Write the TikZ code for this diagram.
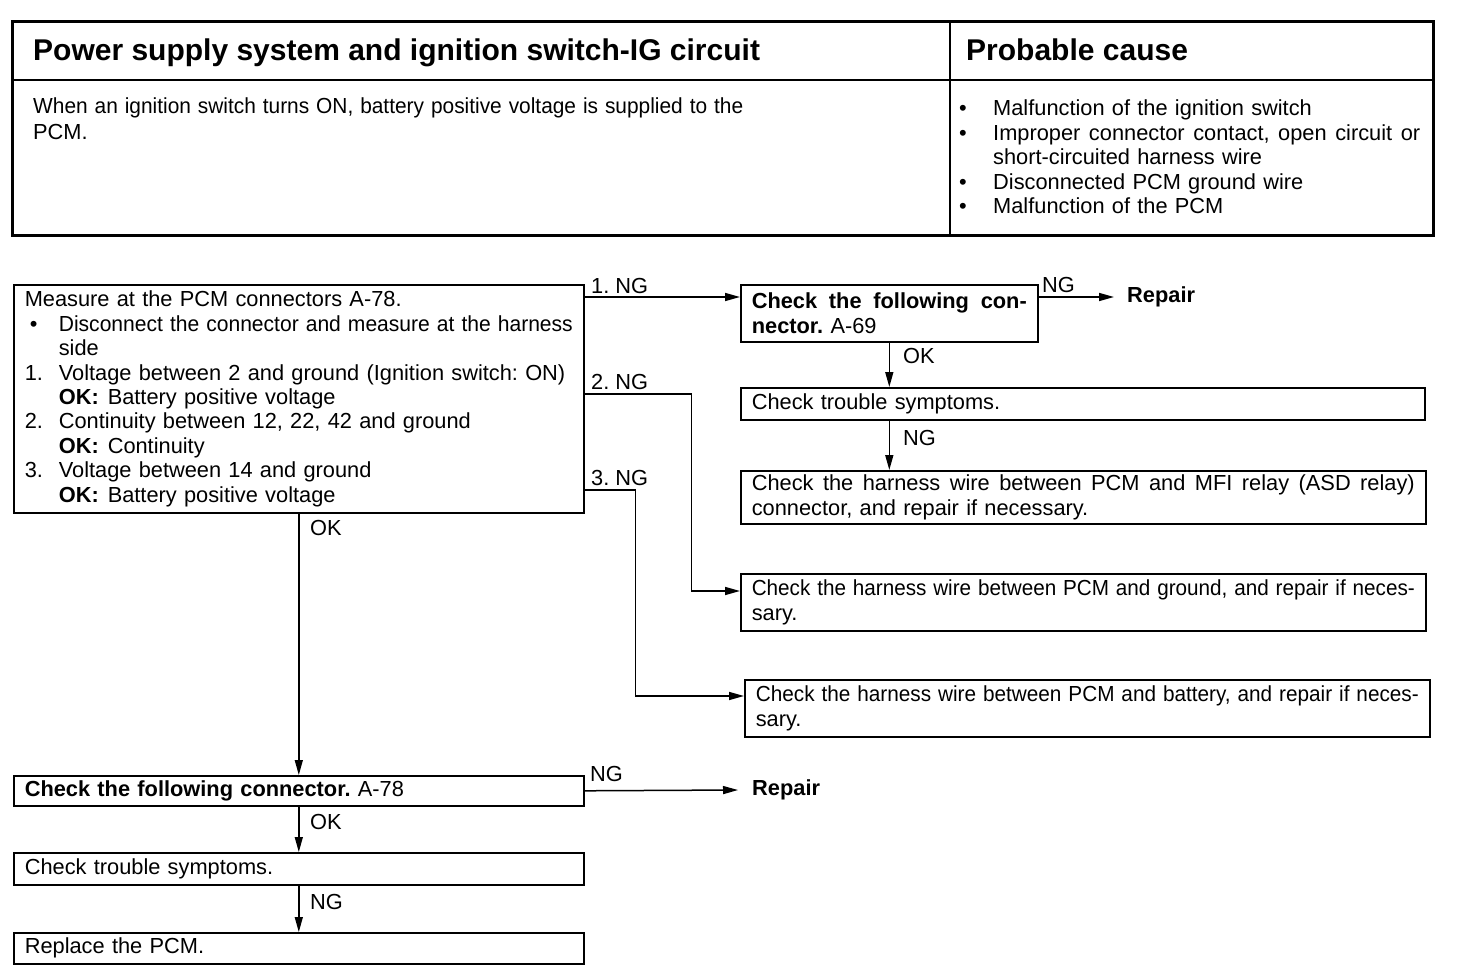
\documentclass[tikz,border=0pt]{standalone}
\usepackage{fontspec}
\usepackage{graphicx}
\setmainfont{Liberation Sans}
\usetikzlibrary{arrows.meta,calc}
\newcommand{\squeezeto}[2]{\resizebox{#1}{\height}{#2}}
\newcommand{\bigdot}{\textbullet}
\begin{document}
\frenchspacing
\begin{tikzpicture}[x=1pt,y=-1pt,
  txt/.style={font=\fontsize{21.8}{24.4}\selectfont, inner sep=0pt},
  box/.style={txt, draw, line width=1.6pt, anchor=north west, inner xsep=11pt, inner ysep=0pt, align=left},
  arr/.style={line width=1.5pt, -{Triangle[length=15pt,width=8pt]}},
  lbl/.style={txt, anchor=base west},
  bigbold/.style={font=\fontsize{30}{34}\selectfont\bfseries},
  repair/.style={txt, anchor=west, font=\fontsize{21.8}{24}\selectfont\bfseries},
  frame/.style={line width=3pt},
  rule/.style={line width=2pt}]
\useasboundingbox (0,0) rectangle (1472,974);

% header table
\draw[frame] (12,22) rectangle (1433,235);
\draw[rule] (12,80) -- (1433,80);
\draw[rule] (950,22) -- (950,235);
\node[lbl, bigbold] (title) at (33,60) {Power supply system and ignition switch-IG circuit};
\node[lbl, bigbold] (pc) at (966,60) {Probable cause};
\node[txt, anchor=north west, text width=900pt, align=left, font=\fontsize{21.8}{26}\selectfont] (desc) at (33,98)
  {\squeezeto{710pt}{When an ignition switch turns ON, battery positive voltage is supplied to the}\\PCM.};
\node[txt, anchor=north west, text width=460pt, align=left] (causes) at (959,100)
  {\makebox[34pt][l]{\bigdot}Malfunction of the ignition switch\\
   \makebox[34pt][l]{\bigdot}\hbox to 427pt{Improper \hfill connector \hfill contact, \hfill open \hfill circuit \hfill or}\\
   \hspace*{34pt}short-circuited harness wire\\
   \makebox[34pt][l]{\bigdot}Disconnected PCM ground wire\\
   \makebox[34pt][l]{\bigdot}Malfunction of the PCM};

% boxes
\node[box, text width=548pt, minimum height=228pt] (m) at (13,284)
  {Measure at the PCM connectors A-78.\\
   \makebox[34pt][l]{\hspace{5pt}\bigdot}\squeezeto{514pt}{Disconnect the connector and measure at the harness}\\
   \hspace*{34pt}side\\
   \makebox[34pt][l]{1.}Voltage between 2 and ground (Ignition switch: ON)\\
   \hspace*{34pt}\textbf{OK:}\hspace{9pt}Battery positive voltage\\
   \makebox[34pt][l]{2.}Continuity between 12, 22, 42 and ground\\
   \hspace*{34pt}\textbf{OK:}\hspace{9pt}Continuity\\
   \makebox[34pt][l]{3.}Voltage between 14 and ground\\
   \hspace*{34pt}\textbf{OK:}\hspace{9pt}Battery positive voltage};
\node[box, text width=275pt, minimum height=57pt] (a69) at (740,284)
  {\hbox to 275pt{\bfseries Check \hfill the \hfill following \hfill con-}\\\textbf{nector.} A-69};
\node[repair] (rep1) at (1127,297) {Repair};
\node[box, text width=662pt, minimum height=32pt] (t1) at (740,387) {Check trouble symptoms.};
\node[box, text width=663pt, minimum height=53pt] (asd) at (740,470)
  {\hbox to 663pt{Check \hfill the \hfill harness \hfill wire \hfill between \hfill PCM \hfill and \hfill MFI \hfill relay \hfill (ASD \hfill relay)}\\connector, and repair if necessary.};
\node[box, text width=663pt, minimum height=57pt] (gnd) at (740,573)
  {\squeezeto{663pt}{Check the harness wire between PCM and ground, and repair if neces-}\\sary.};
\node[box, text width=663pt, minimum height=57pt] (bat) at (744,679)
  {\squeezeto{663pt}{Check the harness wire between PCM and battery, and repair if neces-}\\sary.};
\node[box, text width=548pt, minimum height=30pt] (c78) at (13,775)
  {\textbf{Check the following connector.} A-78};
\node[repair] (rep2) at (752,790) {Repair};
\node[box, text width=548pt, minimum height=32pt] (t2) at (13,852) {Check trouble symptoms.};
\node[box, text width=548pt, minimum height=31pt] (rp) at (13,932) {Replace the PCM.};

% connectors
\draw[arr] ($(m.north east)+(0,13)$) -- ($(a69.north west)+(0,13)$);
\node[lbl] (l1) at (591,293) {1. NG};
\draw[arr] ($(a69.north east)+(0,13)$) -- ($(rep1.west)+(-13,0)$);
\node[lbl] (l2) at (1042,292) {NG};
\draw[arr] (a69.south) -- (a69.south |- t1.north);
\node[txt, anchor=west] (l3) at (903,356) {OK};
\draw[arr] (a69.south |- t1.south) -- (a69.south |- asd.north);
\node[txt, anchor=west] (l4) at (903,438) {NG};
\draw[arr] ($(m.north east)+(0,110)$) -- ++(107,0) |- ($(gnd.north west)+(0,18)$);
\node[lbl] (l5) at (591,389) {2. NG};
\draw[arr] ($(m.north east)+(0,206)$) -- ++(51,0) |- ($(bat.north west)+(0,17)$);
\node[lbl] (l6) at (591,485) {3. NG};
\draw[arr] (m.south) -- (c78.north);
\node[txt, anchor=west] (l7) at (310,528) {OK};
\draw[arr] (c78.east) -- ($(rep2.west)+(-14,0)$);
\node[lbl] (l8) at (590,781) {NG};
\draw[arr] (c78.south) -- (t2.north);
\node[txt, anchor=west] (l9) at (310,822) {OK};
\draw[arr] (t2.south) -- (rp.north);
\node[txt, anchor=west] (l10) at (310,902) {NG};
\end{tikzpicture}
\end{document}
